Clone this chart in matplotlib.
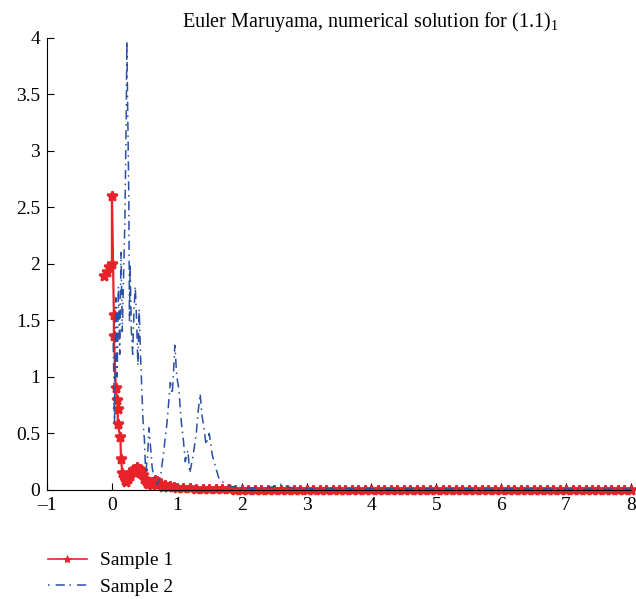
import matplotlib
matplotlib.use("Agg")
import matplotlib.pyplot as plt
from matplotlib.lines import Line2D
from matplotlib.ticker import FuncFormatter

plt.rcParams['font.family'] = ['Liberation Serif', 'DejaVu Serif']
plt.rcParams['mathtext.fontset'] = 'custom'
plt.rcParams['mathtext.rm'] = 'Liberation Serif'
plt.rcParams['mathtext.it'] = 'Liberation Serif'

RED = '#e8222a'
BLUE = '#2b4ea6'

# sample 1 (red, stars)
s1_t = [-0.12, -0.08, -0.04, 0.0, 0.0, 0.03, 0.03, 0.06, 0.08, 0.09, 0.09, 0.13, 0.14,
        0.16, 0.18, 0.20, 0.22, 0.24, 0.26, 0.28, 0.30, 0.32, 0.34, 0.36, 0.38, 0.40,
        0.42, 0.44, 0.46, 0.48, 0.50, 0.52, 0.54, 0.56, 0.58, 0.60, 0.62, 0.64, 0.66,
        0.68, 0.70, 0.72, 0.75, 0.78, 0.82, 0.86, 0.90, 0.95, 1.0, 1.1, 1.2, 1.3, 1.4,
        1.5, 1.6, 1.7, 1.8, 1.9, 2.0, 2.1, 2.2, 2.3, 2.4, 2.5, 2.6, 2.7, 2.8, 2.9, 3.0,
        3.1, 3.2, 3.3, 3.4, 3.5, 3.6, 3.7, 3.8, 3.9, 4.0, 4.1, 4.2, 4.3, 4.4, 4.5, 4.6,
        4.7, 4.8, 4.9, 5.0, 5.1, 5.2, 5.3, 5.4, 5.5, 5.6, 5.7, 5.8, 5.9, 6.0, 6.1, 6.2,
        6.3, 6.4, 6.5, 6.6, 6.7, 6.8, 6.9, 7.0, 7.1, 7.2, 7.3, 7.4, 7.5, 7.6, 7.7, 7.8,
        7.9, 8.0]
s1_y = [1.89, 1.93, 1.97, 2.0, 2.6, 1.55, 1.36, 0.90, 0.80, 0.72, 0.58, 0.47, 0.27,
        0.15, 0.12, 0.09, 0.07, 0.10, 0.13, 0.12, 0.15, 0.18, 0.16, 0.19, 0.20, 0.17,
        0.19, 0.15, 0.17, 0.13, 0.10, 0.08, 0.06, 0.05, 0.07, 0.05, 0.04, 0.07, 0.09,
        0.06, 0.08, 0.05, 0.04, 0.03, 0.04, 0.03, 0.035, 0.025, 0.02, 0.018, 0.015, 0.012, 0.01,
        0.008, 0.007, 0.006, 0.005, 0.004, 0.004, 0.003, 0.003, 0.003, 0.002, 0.002, 0.002, 0.002, 0.002, 0.002, 0.002,
        0.002, 0.002, 0.002, 0.002, 0.002, 0.002, 0.002, 0.002, 0.002, 0.002, 0.002, 0.002, 0.002, 0.002, 0.002, 0.002,
        0.002, 0.002, 0.002, 0.002, 0.002, 0.002, 0.002, 0.002, 0.002, 0.002, 0.002, 0.002, 0.002, 0.002, 0.002, 0.002,
        0.002, 0.002, 0.002, 0.002, 0.002, 0.002, 0.002, 0.002, 0.002, 0.002, 0.002, 0.002, 0.002, 0.002, 0.002, 0.002,
        0.002, 0.002]

# sample 2 (blue, dash-dot)
s2_t = [0.02, 0.04, 0.06, 0.08, 0.10, 0.12, 0.14, 0.16, 0.18, 0.20, 0.22, 0.23, 0.24,
        0.26, 0.27, 0.28, 0.30, 0.32, 0.34, 0.36, 0.38, 0.40, 0.42, 0.44, 0.46, 0.48,
        0.50, 0.52, 0.55, 0.57, 0.60, 0.62, 0.65, 0.70, 0.75, 0.80, 0.85, 0.90, 0.93,
        0.95, 0.97, 1.00, 1.03, 1.07, 1.10, 1.13, 1.17, 1.20, 1.25, 1.30, 1.33, 1.36,
        1.39, 1.42, 1.45, 1.50, 1.55, 1.60, 1.65, 1.75, 1.85, 2.0, 2.2, 2.4, 2.5, 2.6,
        2.7, 2.8, 3.0, 3.5, 4.0, 4.5, 5.0, 5.5, 6.0, 6.5, 7.0, 7.5, 8.0]
s2_y = [1.3, 0.6, 1.7, 1.0, 1.8, 1.2, 2.1, 1.4, 1.9, 2.4, 3.3, 3.97, 3.5,
        2.6, 1.5, 2.0, 1.4, 1.2, 1.6, 1.8, 1.5, 1.1, 1.6, 1.2, 0.9, 0.6,
        0.45, 0.15, 0.3, 0.55, 0.35, 0.2, 0.1, 0.05, 0.12, 0.35, 0.6, 0.95, 0.85,
        1.05, 1.28, 1.0, 0.9, 0.6, 0.45, 0.25, 0.35, 0.15, 0.3, 0.5, 0.7, 0.85,
        0.65, 0.55, 0.4, 0.5, 0.3, 0.2, 0.1, 0.05, 0.03, 0.02, 0.015, 0.02, 0.03, 0.05,
        0.03, 0.015, 0.01, 0.012, 0.01, 0.01, 0.008, 0.01, 0.008, 0.01, 0.008, 0.008, 0.008]

fig = plt.figure(figsize=(6.36, 5.99), dpi=100)
ax = fig.add_axes([0.074, 0.182, 0.918, 0.755])

ax.plot(s1_t, s1_y, color=RED, lw=1.6, marker='*', ms=7, mew=1.8, clip_on=False)
ax.plot(s2_t, s2_y, color=BLUE, lw=1.1, ls=(0, (6, 3, 1, 3)), clip_on=False)

ax.set_xlim(-1, 8)
ax.set_ylim(0, 4)
ax.set_xticks(range(-1, 9))
ax.set_yticks([0, 0.5, 1, 1.5, 2, 2.5, 3, 3.5, 4])
ax.yaxis.set_major_formatter(FuncFormatter(lambda v, p: '%g' % v))
ax.xaxis.set_major_formatter(FuncFormatter(lambda v, p: ('%g' % v).replace('-', '\u2013')))
ax.tick_params(direction='in', length=5, labelsize=14, width=0.8, pad=5)
for s in ['top', 'right']:
    ax.spines[s].set_visible(False)

fig.text(0.582, 0.955, r'Euler Maruyama, numerical solution for (1.1)$_1$', ha='center', fontsize=14.5)

h1 = Line2D([], [], color=RED, lw=1.2, marker='*', ms=6, mew=0.6)
h2 = Line2D([], [], color=BLUE, lw=1.1, ls=(0, (1, 4, 6, 3)))
fig.legend(handles=[h1, h2], labels=['Sample 1', 'Sample 2'], loc='upper left',
           bbox_to_anchor=(0.06, 0.095), frameon=False, fontsize=14, handlelength=2.0,
           labelspacing=0.45, borderpad=0, handletextpad=0.7)

fig.savefig('out.png', dpi=100)
